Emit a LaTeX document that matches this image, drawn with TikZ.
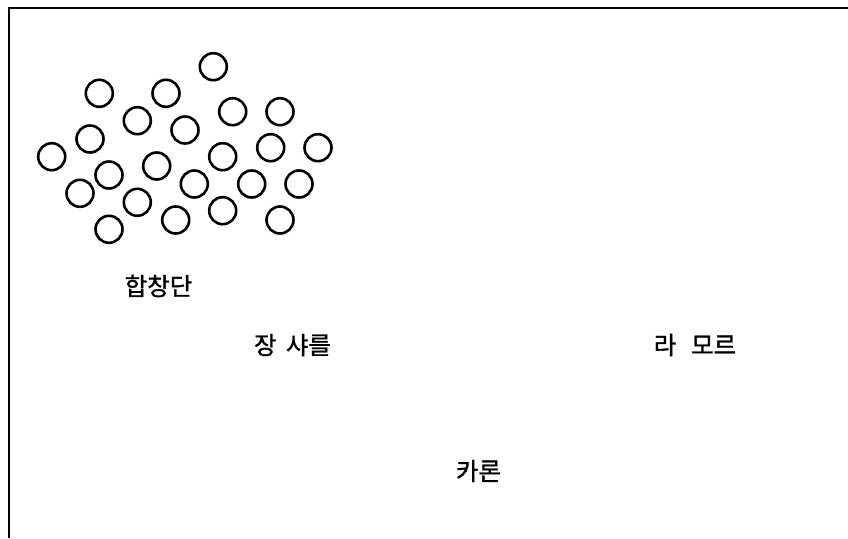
\documentclass[tikz,border=0pt]{standalone}
\usepackage{fontspec}
\newfontfamily\kr[FakeBold=1.3]{Noto Sans CJK KR}
\begin{document}
\begin{tikzpicture}[x=1pt,y=-1pt,
  ring/.style={draw=black,circle,line width=2.6pt,minimum width=27pt,minimum height=26pt,inner sep=0pt},
  label/.style={font=\kr\fontsize{24.5}{28}\selectfont,text=black,inner sep=0pt}]
\useasboundingbox (0,0) rectangle (848,538);
\coordinate (tr) at (848,8);
\coordinate (tl) at (9,8);
\coordinate (bl) at (9,538);
\draw[line width=2.3pt] (tr) -- (tl) -- (bl);
\foreach \n/\x/\y in {1/213.3/66.7, 2/99.3/93.3, 3/166/93.3, 4/232.7/111.7, 5/280/111.7,
  6/137.3/120.7, 7/185/130, 8/90/139, 9/270.7/147.7, 10/318/147.7, 11/51.7/156.7,
  12/222.7/156.7, 13/156.7/166, 14/109/175, 15/194.3/184, 16/251.7/184, 17/299/184,
  18/80/193.3, 19/137.3/202.3, 20/222.7/210.7, 21/175.7/220, 22/280/220, 23/109/229.3}
  \node[ring] (c\n) at (\x,\y) {};
\node[label] (choir) at (158.5,286) {합창단};
\node[label] (jean) at (292.5,345) {장\hspace{0.38em}샤를};
\node[label] (lamort) at (695,345) {라\hspace{0.6em}모르};
\node[label] (charon) at (478.5,471) {카론};
\end{tikzpicture}
\end{document}
